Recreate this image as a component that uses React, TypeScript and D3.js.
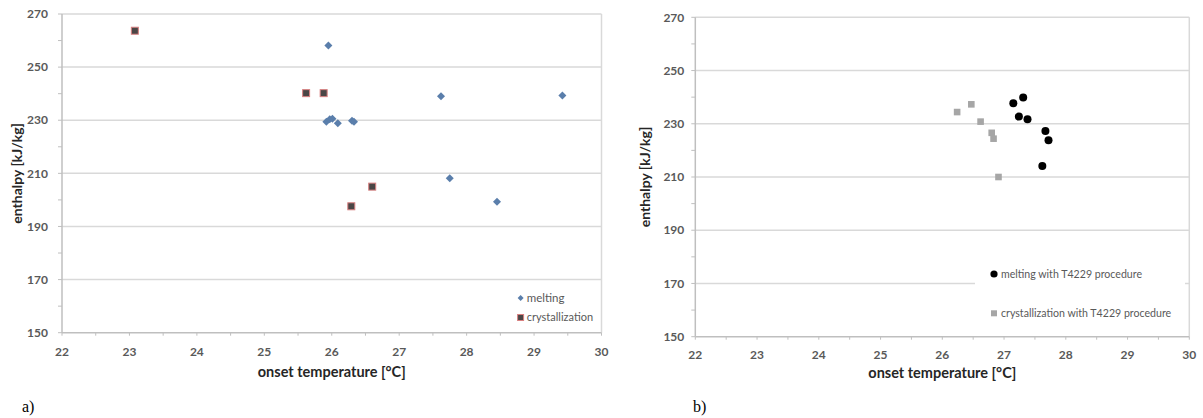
import React from "react";
import * as d3 from "d3";

const xTicks = [22, 23, 24, 25, 26, 27, 28, 29, 30];
const yTicks = [150, 170, 190, 210, 230, 250, 270];

// panel a)
const meltingA: [number, number][] = [
  [25.95, 258.1], [25.92, 229.4], [25.97, 230.4], [26.01, 230.6], [26.09, 228.9],
  [26.30, 229.8], [26.33, 229.4], [27.62, 239.0], [29.42, 239.3], [27.75, 208.2], [28.45, 199.3],
];
const crystA: [number, number][] = [
  [23.08, 263.7], [25.62, 240.2], [25.88, 240.2], [26.29, 197.6], [26.60, 205.0],
];
// panel b)
const meltingB: [number, number][] = [
  [27.15, 237.7], [27.31, 239.9], [27.24, 232.7], [27.38, 231.7], [27.67, 227.3], [27.72, 223.8], [27.62, 214.1],
];
const crystB: [number, number][] = [
  [26.24, 234.4], [26.47, 237.3], [26.62, 230.8], [26.80, 226.6], [26.83, 224.4], [26.91, 210.0],
];

const FONT = "Lato, 'Open Sans', sans-serif";
const TICK_COLOR = "#595959";

type PanelProps = {
  x0: number; x1: number; yTop: number; yBot: number;
  labelGap: number; xLabelDy: number;
  children: (x: d3.ScaleLinear<number, number>, y: d3.ScaleLinear<number, number>) => React.ReactNode;
  underlay?: (x: d3.ScaleLinear<number, number>, y: d3.ScaleLinear<number, number>) => React.ReactNode;
  letter: string; letterX: number;
  yTitleX: number; xTitleY: number;
};

function Panel(p: PanelProps) {
  const x = d3.scaleLinear().domain([22, 30]).range([p.x0, p.x1]);
  const y = d3.scaleLinear().domain([150, 270]).range([p.yBot, p.yTop]);
  const minorX = d3.range(22, 30.01, 0.5);
  const minorY = d3.range(150, 270.01, 10);
  return (
    <g>
      {yTicks.filter((t) => t !== 150).map((t) => (
        <line key={"g" + t} x1={x(22)} x2={x(30)} y1={y(t)} y2={y(t)} stroke="#d9d9d9" strokeWidth={1.5} />
      ))}
      <line x1={x(30)} x2={x(30)} y1={y(270)} y2={y(150)} stroke="#d9d9d9" strokeWidth={1.5} />
      {p.underlay && p.underlay(x, y)}
      <line x1={x(22)} x2={x(22)} y1={y(270)} y2={y(150)} stroke="#bfbfbf" strokeWidth={1.5} />
      <line x1={x(22)} x2={x(30)} y1={y(150)} y2={y(150)} stroke="#bfbfbf" strokeWidth={1.5} />
      {minorY.map((t) => (
        <line key={"my" + t} x1={x(22) - 4} x2={x(22)} y1={y(t)} y2={y(t)} stroke="#bfbfbf" strokeWidth={1} />
      ))}
      {minorX.map((t) => (
        <line key={"mx" + t} x1={x(t)} x2={x(t)} y1={y(150)} y2={y(150) + 3} stroke="#bfbfbf" strokeWidth={1} />
      ))}
      {yTicks.map((t) => (
        <text key={"yl" + t} x={x(22) - p.labelGap} y={y(t)} dy="0.35em" textAnchor="end"
          fontFamily={FONT} fontSize={12} fontWeight={700} fill={TICK_COLOR}>{t}</text>
      ))}
      {xTicks.map((t) => (
        <text key={"xl" + t} x={x(t)} y={y(150) + p.xLabelDy} dy="0.35em" textAnchor="middle"
          fontFamily={FONT} fontSize={12} fontWeight={700} fill={TICK_COLOR}>{t}</text>
      ))}
      <text x={(p.x0 + p.x1) / 2} y={p.xTitleY} dy="0.35em" textAnchor="middle" fontFamily={FONT}
        fontSize={14.5} fontWeight={700} fill="#262626">onset temperature [°C]</text>
      <text transform={`translate(${p.yTitleX},${(p.yTop + p.yBot) / 2}) rotate(-90)`} dy="0.35em"
        textAnchor="middle" fontFamily={FONT} fontSize={14} fontWeight={700} fill="#262626">enthalpy [kJ/kg]</text>
      {p.children(x, y)}
      <text x={p.letterX} y={406} dy="0.35em" fontFamily="'Liberation Serif', 'Times New Roman', serif"
        fontSize={16} fill="#000">{p.letter}</text>
    </g>
  );
}

const diamond = (cx: number, cy: number, r: number) =>
  `M${cx},${cy - r}L${cx + r},${cy}L${cx},${cy + r}L${cx - r},${cy}Z`;

export default function App() {
  return (
    <div style={{ position: "absolute", left: 0, top: 0 }}>
      <svg width={1203} height={418} style={{ display: "block", background: "#fff" }}>
        <Panel x0={62} x1={601.5} yTop={14} yBot={332.7} labelGap={14} xLabelDy={19}
          letter="a)" letterX={22} yTitleX={17} xTitleY={371.7}>
          {(x, y) => (
            <g>
              {meltingA.map(([a, b], i) => (
                <path key={"ma" + i} d={diamond(x(a), y(b), 4)} fill="#5a7eab" />
              ))}
              {crystA.map(([a, b], i) => (
                <rect key={"ca" + i} x={x(a) - 3.5} y={y(b) - 3.5} width={7} height={7}
                  fill="#4a4646" stroke="#d88080" strokeWidth={1} />
              ))}
              <path d={diamond(520.6, 298, 3)} fill="#5a7eab" />
              <text x={526.7} y={298} dy="0.35em" fontFamily={FONT} fontSize={11.5} fill={TICK_COLOR}>melting</text>
              <rect x={517.6} y={314.5} width={6} height={6} fill="#4a4646" stroke="#d88080" strokeWidth={1} />
              <text x={526.7} y={317.5} dy="0.35em" fontFamily={FONT} fontSize={11} fill={TICK_COLOR}>crystallization</text>
            </g>
          )}
        </Panel>
        <Panel x0={695.3} x1={1189.3} yTop={17.3} yBot={336.7} labelGap={11} xLabelDy={17.6}
          letter="b)" letterX={693} yTitleX={645.4} xTitleY={373.3}
          underlay={() => <rect x={975} y={245} width={210} height={85} fill="#fff" />}>
          {(x, y) => (
            <g>
              {crystB.map(([a, b], i) => (
                <rect key={"cb" + i} x={x(a) - 3.3} y={y(b) - 3.3} width={6.6} height={6.6} fill="#a6a6a6" />
              ))}
              {meltingB.map(([a, b], i) => (
                <circle key={"mb" + i} cx={x(a)} cy={y(b)} r={4} fill="#000" />
              ))}
              <circle cx={994} cy={274} r={3.6} fill="#000" />
              <text x={1001} y={274} dy="0.35em" fontFamily={FONT} fontSize={10.6} fill={TICK_COLOR}>melting with T4229 procedure</text>
              <rect x={991} y={310.3} width={6} height={6} fill="#a6a6a6" />
              <text x={1001} y={313.3} dy="0.35em" fontFamily={FONT} fontSize={10.6} fill={TICK_COLOR}>crystallization with T4229 procedure</text>
            </g>
          )}
        </Panel>
      </svg>
    </div>
  );
}
